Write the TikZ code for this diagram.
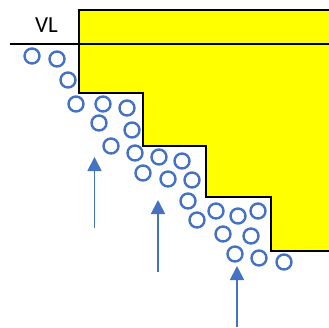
\documentclass[tikz,border=0pt]{standalone}
\usepackage{fontspec}
\setmainfont{Carlito}
\usetikzlibrary{arrows.meta}
\definecolor{pblue}{HTML}{4472C4}
\definecolor{pyellow}{HTML}{FFFF00}
\tikzset{
  particle/.style={circle,draw=pblue,line width=2.4pt,minimum size=15pt,inner sep=0pt},
  flow/.style={draw=pblue,line width=1.8pt,-{Triangle[width=14pt,length=14pt]}},
  wall/.style={draw=black,line width=1.8pt}
}
\begin{document}
\begin{tikzpicture}[x=1pt,y=-1pt]
\useasboundingbox (0,0) rectangle (329,327);
\fill[pyellow] (329,10) -- (79,10) -- (79,93) -- (143,93) -- (143,146) -- (206,146) -- (206,197) -- (271,197) -- (271,251) -- (329,251) -- cycle;
\draw[wall] (329,10) -- (79,10) -- (79,93) -- (143,93) -- (143,146) -- (206,146) -- (206,197) -- (271,197) -- (271,251) -- (329,251);
\coordinate (vlL) at (10,44);
\coordinate (vlR) at (329,44);
\draw[wall] (vlL) -- (vlR);
\node[inner sep=0pt] (vl) at (46.5,25) {\fontsize{23}{27}\selectfont VL};
\foreach \n/\x/\y in {p1/32/56, p2/57/59, p3/68/80, p4/76/104, p5/103/104, p6/127/108, p7/99/123, p8/132/130, p9/111/146, p10/135/153, p11/159/157, p12/182/161, p13/143/173, p14/168/179, p15/192/180, p16/188/201, p17/216/211, p18/238/216, p19/258/211, p20/197/220, p21/223/234, p22/251/236, p23/235/254, p24/259/258, p25/284/262}
  \node[particle] (\n) at (\x,\y) {};
\coordinate (a1s) at (94.5,228);
\coordinate (a1e) at (94.5,157);
\coordinate (a2s) at (158,272);
\coordinate (a2e) at (158,200);
\coordinate (a3s) at (237,327);
\coordinate (a3e) at (237,266);
\draw[flow] (a1s) -- (a1e);
\draw[flow] (a2s) -- (a2e);
\draw[flow] (a3s) -- (a3e);
\end{tikzpicture}
\end{document}
